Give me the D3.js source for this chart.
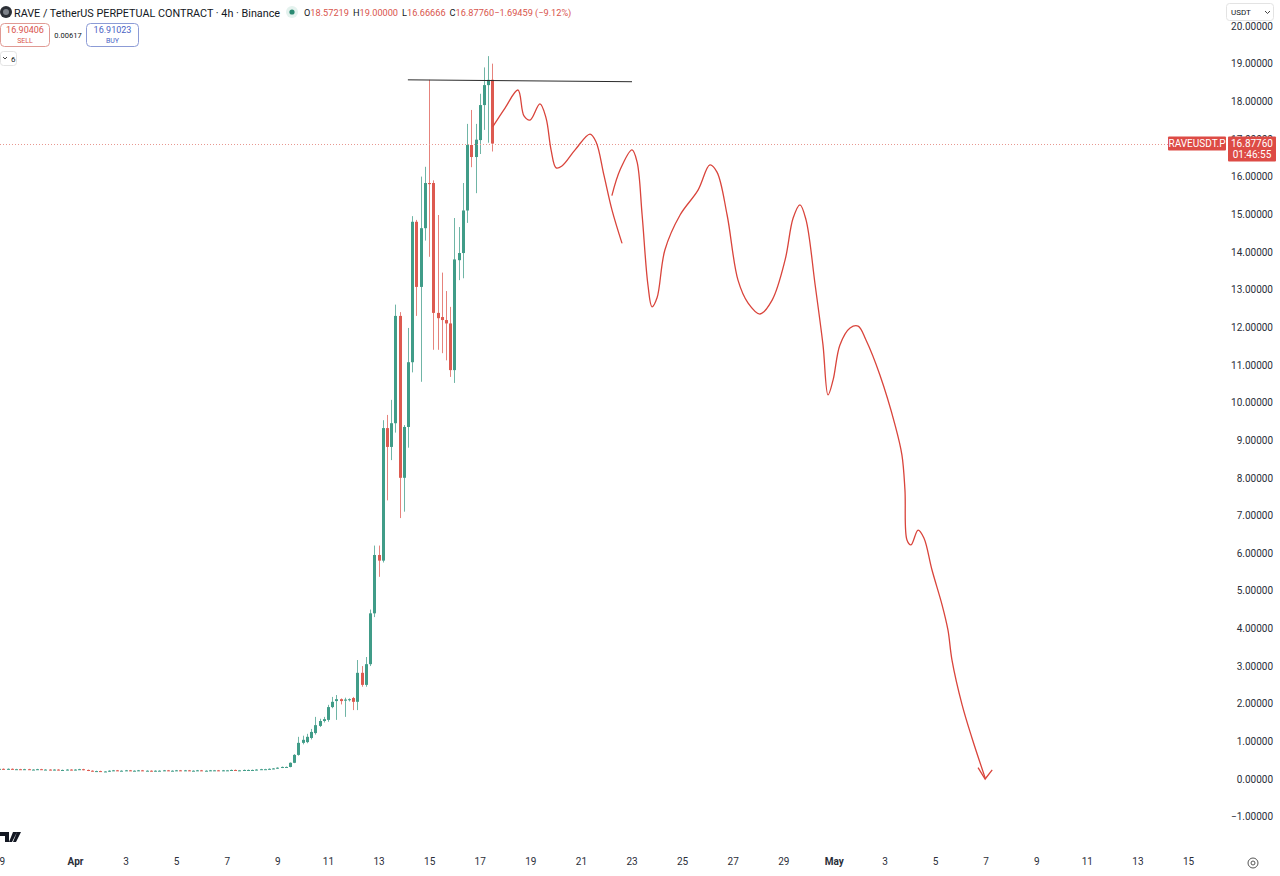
<!DOCTYPE html>
<html>
<head>
<meta charset="utf-8">
<script src="https://cdn.jsdelivr.net/npm/d3@7"></script>
<style>
  body { margin: 0; background: #fff; }
  svg { display: block; font-family: Roboto, "Noto Sans", sans-serif; }
</style>
</head>
<body>
<div id="main_div"></div>
<script>
// 4h candles starting Mar 29 00:00 UTC
let startTime = Date.UTC(2026, 2, 29);
let opens = [0.27,0.27,0.26,0.27,0.26,0.26,0.25,0.26,0.25,0.25,
  0.26,0.25,0.25,0.24,0.25,0.24,0.24,0.25,0.24,0.25,
  0.26,0.24,0.22,0.21,0.21,0.20,0.20,0.22,0.23,0.22,
  0.22,0.23,0.22,0.22,0.23,0.22,0.22,0.21,0.22,0.22,
  0.23,0.22,0.22,0.23,0.22,0.23,0.22,0.22,0.23,0.22,
  0.22,0.23,0.23,0.22,0.23,0.23,0.24,0.23,0.23,0.24,
  0.24,0.24,0.25,0.26,0.26,0.27,0.28,
  0.30,0.32,0.32,0.43,0.64,0.96,0.98,1.09,1.22,1.41,
  1.54,1.57,1.91,2.07,2.12,2.08,2.10,2.15,2.05,2.82,
  2.50,3.05,4.40,5.95,5.80,9.32,8.82,9.45,12.30,8.00,
  9.35,11.07,14.80,13.07,14.63,15.83,15.83,12.38,12.27,12.19,
  12.10,10.86,13.78,13.97,15.10,16.84,16.52,16.97,17.90,18.43,18.57219];
let highs = [0.28,0.28,0.28,0.28,0.27,0.27,0.27,0.27,0.26,0.27,
  0.27,0.26,0.26,0.26,0.26,0.25,0.26,0.26,0.26,0.27,
  0.27,0.25,0.23,0.22,0.22,0.21,0.23,0.24,0.24,0.23,
  0.24,0.24,0.23,0.24,0.24,0.23,0.23,0.23,0.23,0.24,
  0.24,0.23,0.24,0.24,0.24,0.24,0.23,0.24,0.24,0.23,
  0.24,0.24,0.24,0.24,0.24,0.25,0.25,0.24,0.25,0.25,
  0.25,0.26,0.27,0.27,0.28,0.29,0.31,
  0.33,0.33,0.44,0.66,1.12,1.15,1.20,1.33,1.65,1.60,
  1.65,1.97,2.18,2.23,2.14,2.16,2.14,2.18,3.16,3.00,
  3.24,4.50,6.20,6.20,9.53,9.67,10.07,12.60,12.40,9.40,
  11.98,14.95,14.85,16.00,16.26,18.57,15.90,14.98,13.45,12.96,
  12.54,14.90,14.66,15.83,17.40,17.77,17.40,18.20,18.90,19.20,19.00];
let lows = [0.26,0.25,0.25,0.25,0.25,0.24,0.24,0.24,0.24,0.24,
  0.24,0.24,0.23,0.23,0.23,0.23,0.23,0.23,0.23,0.24,
  0.23,0.21,0.20,0.20,0.19,0.19,0.19,0.21,0.21,0.21,
  0.21,0.21,0.21,0.21,0.21,0.21,0.20,0.20,0.21,0.21,
  0.21,0.21,0.21,0.21,0.21,0.21,0.21,0.21,0.21,0.21,
  0.21,0.22,0.21,0.21,0.22,0.22,0.22,0.22,0.22,0.23,
  0.23,0.23,0.24,0.25,0.25,0.26,0.27,
  0.29,0.31,0.31,0.42,0.62,0.92,0.95,1.05,1.18,1.38,
  1.50,1.52,1.88,1.57,1.98,1.65,2.06,1.83,1.83,2.45,
  2.45,3.00,4.30,5.37,5.75,7.40,8.47,9.20,6.93,7.10,
  8.80,10.80,12.30,10.55,14.30,13.87,11.40,11.40,11.31,11.12,
  10.68,10.52,13.25,13.30,14.77,16.25,15.56,16.60,17.24,16.90,16.66666];
let closes = [0.27,0.26,0.27,0.26,0.26,0.25,0.26,0.25,0.25,0.26,
  0.25,0.25,0.24,0.25,0.24,0.24,0.25,0.24,0.25,0.26,
  0.24,0.22,0.21,0.21,0.20,0.20,0.22,0.23,0.22,0.22,
  0.23,0.22,0.22,0.23,0.22,0.22,0.21,0.22,0.22,0.23,
  0.22,0.22,0.23,0.22,0.23,0.22,0.22,0.23,0.22,0.22,
  0.23,0.23,0.22,0.23,0.23,0.24,0.23,0.23,0.24,0.24,
  0.24,0.25,0.26,0.26,0.27,0.28,0.30,
  0.32,0.32,0.43,0.64,0.96,1.04,1.12,1.25,1.43,1.54,
  1.59,1.91,2.05,2.12,2.07,2.11,2.12,2.05,2.82,2.50,
  3.05,4.40,5.95,5.80,9.32,8.82,9.45,12.30,8.00,9.35,
  11.07,14.80,13.07,14.63,15.83,15.80,12.38,12.24,12.19,12.10,
  10.86,13.80,13.97,15.10,16.84,16.52,16.98,17.90,18.43,18.57,16.8776];

let priceTicks = [-1,0,1,2,3,4,5,6,7,8,9,10,11,12,13,14,15,16,17,18,19,20];
let dateTicks = ["2026-03-29","2026-04-01","2026-04-03","2026-04-05","2026-04-07","2026-04-09",
  "2026-04-11","2026-04-13","2026-04-15","2026-04-17","2026-04-19","2026-04-21","2026-04-23",
  "2026-04-25","2026-04-27","2026-04-29","2026-05-01","2026-05-03","2026-05-05","2026-05-07",
  "2026-05-09","2026-05-11","2026-05-13","2026-05-15"];

let lastPrice = 16.8776;
// hand-drawn projection, [days after Apr 1, price]
let strokeOne = [[16.53,17.34],[17.00,17.82],[17.51,18.30],[17.75,17.61],[17.99,17.50],[18.38,17.93],
  [18.62,17.56],[18.82,16.71],[19.02,16.23],[19.25,16.28],[19.77,16.71],[20.36,17.13],[20.60,16.92],
  [20.91,16.04],[21.23,15.11],[21.62,14.24]];
let strokeTwo = [[21.23,15.51],[21.55,16.18],[22.02,16.71],[22.22,16.39],[22.42,14.98],[22.65,13.12],
  [22.81,12.54],[23.01,12.78],[23.32,14.05],[23.92,14.98],[24.63,15.64],[25.10,16.31],[25.38,16.12],
  [25.78,14.98],[26.21,13.25],[26.61,12.64],[27.08,12.35],[27.56,12.72],[28.07,13.78],[28.39,14.90],
  [28.66,15.25],[28.90,14.85],[29.26,13.12],[29.57,11.53],[29.77,10.20],[29.97,10.60],[30.24,11.53],
  [30.64,11.98],[30.96,12.03],[31.27,11.66],[31.82,10.73],[32.42,9.40],[32.69,8.61],[32.81,7.68],
  [32.89,6.35],[33.05,6.22],[33.33,6.61],[33.56,6.40],[33.88,5.55],[34.28,4.62],[34.51,3.96],
  [34.67,3.16],[35.07,1.97],[35.46,1.09],[35.98,0.03]];
let arrowHead = [[35.70,0.30],[35.98,0.0],[36.26,0.24]];
let topLine = [[13.16,18.57],[22.02,18.52]];

let W = 1280, H = 876;
let upColor = "#409c88", downColor = "#dd5a50";
let dayMs = 86400000, aprFirst = Date.UTC(2026, 3, 1);

let svg = d3.select("#main_div").append("svg").attr("width", W).attr("height", H).attr("id", "main_svg");

let xScale = d3.scaleUtc().domain([new Date(aprFirst), new Date(Date.UTC(2026, 4, 15))]).range([75, 1188]);
let yScale = d3.scaleLinear().domain([0, 20]).range([779, 26]);
let dayX = d => xScale(new Date(aprFirst + d * dayMs));

/** candles **/
let candles = closes.map((c, i) => ({t: new Date(startTime + i * 4 * 3600000), o: opens[i], h: highs[i], l: lows[i], c: c}));
let plot = svg.append("g").attr("id", "plots");
let g = plot.selectAll("g").data(candles).enter().append("g");
g.append("line")
  .attr("x1", d => Math.round(xScale(d.t)) + 0.5).attr("x2", d => Math.round(xScale(d.t)) + 0.5)
  .attr("y1", d => yScale(d.h)).attr("y2", d => yScale(d.l))
  .attr("stroke", d => d.c >= d.o ? upColor : downColor).attr("stroke-opacity", 0.75);
g.append("rect")
  .attr("x", d => Math.round(xScale(d.t)) - 1)
  .attr("width", 3)
  .attr("y", d => yScale(Math.max(d.o, d.c)))
  .attr("height", d => Math.max(1, Math.abs(yScale(d.o) - yScale(d.c))))
  .attr("fill", d => d.c >= d.o ? upColor : downColor);

/** last price dotted line **/
svg.append("line").attr("x1", 0).attr("x2", 1168)
  .attr("y1", Math.round(yScale(lastPrice)) + 0.5).attr("y2", Math.round(yScale(lastPrice)) + 0.5)
  .attr("stroke", "#e89890").attr("stroke-dasharray", "1,2");

/** drawings **/
let line = d3.line().x(d => dayX(d[0])).y(d => yScale(d[1]));
svg.append("path").attr("d", line(topLine)).attr("stroke", "#2b2b2b").attr("stroke-width", 1).attr("fill", "none");
let curvy = d3.line().x(d => dayX(d[0])).y(d => yScale(d[1])).curve(d3.curveCatmullRom.alpha(0.5));
[strokeOne, strokeTwo].forEach(s => {
  svg.append("path").attr("d", curvy(s)).attr("stroke", "#d9443b").attr("stroke-width", 1.3)
    .attr("fill", "none").attr("stroke-linejoin", "round").attr("stroke-linecap", "round");
});
svg.append("path").attr("d", line(arrowHead)).attr("stroke", "#d9443b").attr("stroke-width", 1.3).attr("fill", "none");

/** price axis **/
let yAxis = d3.axisRight(yScale).tickValues(priceTicks).tickSize(0).tickPadding(0)
  .tickFormat(d => (d < 0 ? "\u2212" : "") + Math.abs(d).toFixed(5));
let yG = svg.append("g").attr("transform", "translate(1273,0)").call(yAxis);
yG.select(".domain").remove();
yG.selectAll("text").attr("text-anchor", "end").attr("fill", "#2a2e39").style("font-size", "10px").style("font-family", "Roboto");

/** time axis **/
let xAxis = d3.axisBottom(xScale).tickValues(dateTicks.map(s => new Date(s + "T00:00:00Z"))).tickSize(0).tickPadding(0)
  .tickFormat(d => d.getUTCDate() === 1 ? d3.utcFormat("%b")(d) : d.getUTCDate());
let xG = svg.append("g").attr("transform", "translate(0,858)").call(xAxis);
xG.select(".domain").remove();
xG.selectAll("text").attr("fill", "#2a2e39").style("font-size", "10px").style("font-family", "Roboto")
  .style("font-weight", d => d.getUTCDate() === 1 ? "bold" : "normal");

/** current price labels **/
let py = yScale(lastPrice);
svg.append("rect").attr("x", 1168).attr("y", py - 7).attr("width", 58).attr("height", 14).attr("rx", 1).attr("fill", "#dd4b45");
svg.append("text").attr("x", 1197).attr("y", py + 3.5).attr("text-anchor", "middle").attr("fill", "#fff").style("font-size", "10px").text("RAVEUSDT.P");
svg.append("rect").attr("x", 1228).attr("y", py - 7).attr("width", 48).attr("height", 25).attr("rx", 1).attr("fill", "#dd4b45");
svg.append("text").attr("x", 1252).attr("y", py + 3.5).attr("text-anchor", "middle").attr("fill", "#fff").style("font-size", "10px").text("16.87760");
svg.append("text").attr("x", 1252).attr("y", py + 14.5).attr("text-anchor", "middle").attr("fill", "#fff").style("font-size", "10px").text("01:46:55");

/** USDT box **/
svg.append("rect").attr("x", 1226.5).attr("y", 3.5).attr("width", 47).attr("height", 17).attr("rx", 3).attr("fill", "#fff").attr("stroke", "#e3e3e3");
svg.append("text").attr("x", 1231).attr("y", 15).attr("fill", "#131722").style("font-size", "8px").text("USDT");
svg.append("path").attr("d", "M1265,11 l2.5,2.5 l2.5,-2.5").attr("stroke", "#444").attr("fill", "none");

/** header **/
svg.append("circle").attr("cx", 6).attr("cy", 12).attr("r", 6).attr("fill", "#2b2f36");
svg.append("circle").attr("cx", 6).attr("cy", 12).attr("r", 3).attr("fill", "#7d828a");
svg.append("text").attr("x", 14).attr("y", 16.5).attr("fill", "#131722").style("font-size", "10.8px")
  .text("RAVE / TetherUS PERPETUAL CONTRACT \u00b7 4h \u00b7 Binance");
svg.append("circle").attr("cx", 292).attr("cy", 12).attr("r", 6).attr("fill", "#e4f2ee");
svg.append("circle").attr("cx", 292).attr("cy", 12).attr("r", 2.6).attr("fill", "#2a8a72");
let ohlc = svg.append("text").attr("x", 304).attr("y", 16).style("font-size", "9.2px");
[["O", "18.57219"], ["H", "19.00000"], ["L", "16.66666"], ["C", "16.87760"], ["", "\u22121.69459 (\u22129.12%)"]].forEach((p, i) => {
  ohlc.append("tspan").attr("dx", i ? 4 : 0).attr("fill", "#131722").text(p[0]);
  ohlc.append("tspan").attr("fill", "#d9544c").text(p[1]);
});

/** buy / sell **/
svg.append("rect").attr("x", 0.5).attr("y", 23.5).attr("width", 49).attr("height", 23).attr("rx", 4).attr("fill", "#fff").attr("stroke", "#e09a94");
svg.append("text").attr("x", 25).attr("y", 33).attr("text-anchor", "middle").attr("fill", "#d9544c").style("font-size", "9px").text("16.90406");
svg.append("text").attr("x", 25).attr("y", 43).attr("text-anchor", "middle").attr("fill", "#d9544c").style("font-size", "7px").text("SELL");
svg.append("text").attr("x", 68).attr("y", 38).attr("text-anchor", "middle").attr("fill", "#131722").style("font-size", "7.5px").text("0.00617");
svg.append("rect").attr("x", 86.5).attr("y", 23.5).attr("width", 52).attr("height", 23).attr("rx", 4).attr("fill", "#fff").attr("stroke", "#8c9bd6");
svg.append("text").attr("x", 112.5).attr("y", 33).attr("text-anchor", "middle").attr("fill", "#4a62c4").style("font-size", "9px").text("16.91023");
svg.append("text").attr("x", 112.5).attr("y", 43).attr("text-anchor", "middle").attr("fill", "#4a62c4").style("font-size", "7px").text("BUY");
svg.append("rect").attr("x", 0.5).attr("y", 51.5).attr("width", 16).attr("height", 14).attr("rx", 3).attr("fill", "#fff").attr("stroke", "#e3e3e3");
svg.append("path").attr("d", "M3,57 l2,2 l2,-2").attr("stroke", "#444").attr("fill", "none");
svg.append("text").attr("x", 11).attr("y", 62).attr("fill", "#131722").style("font-size", "8px").text("6");

/** TV logo + settings **/
svg.append("path").attr("d", "M0,832 h9 v10 h-4 v-6 h-5 z M10,832 m3,0 h4 l-5,10 h-3 z M17,832 h4 l-5,10 h-3 z")
  .attr("fill", "#131722");
svg.append("circle").attr("cx", 1253).attr("cy", 863).attr("r", 5).attr("fill", "none").attr("stroke", "#555");
svg.append("circle").attr("cx", 1253).attr("cy", 863).attr("r", 2).attr("fill", "none").attr("stroke", "#555");
</script>
</body>
</html>
